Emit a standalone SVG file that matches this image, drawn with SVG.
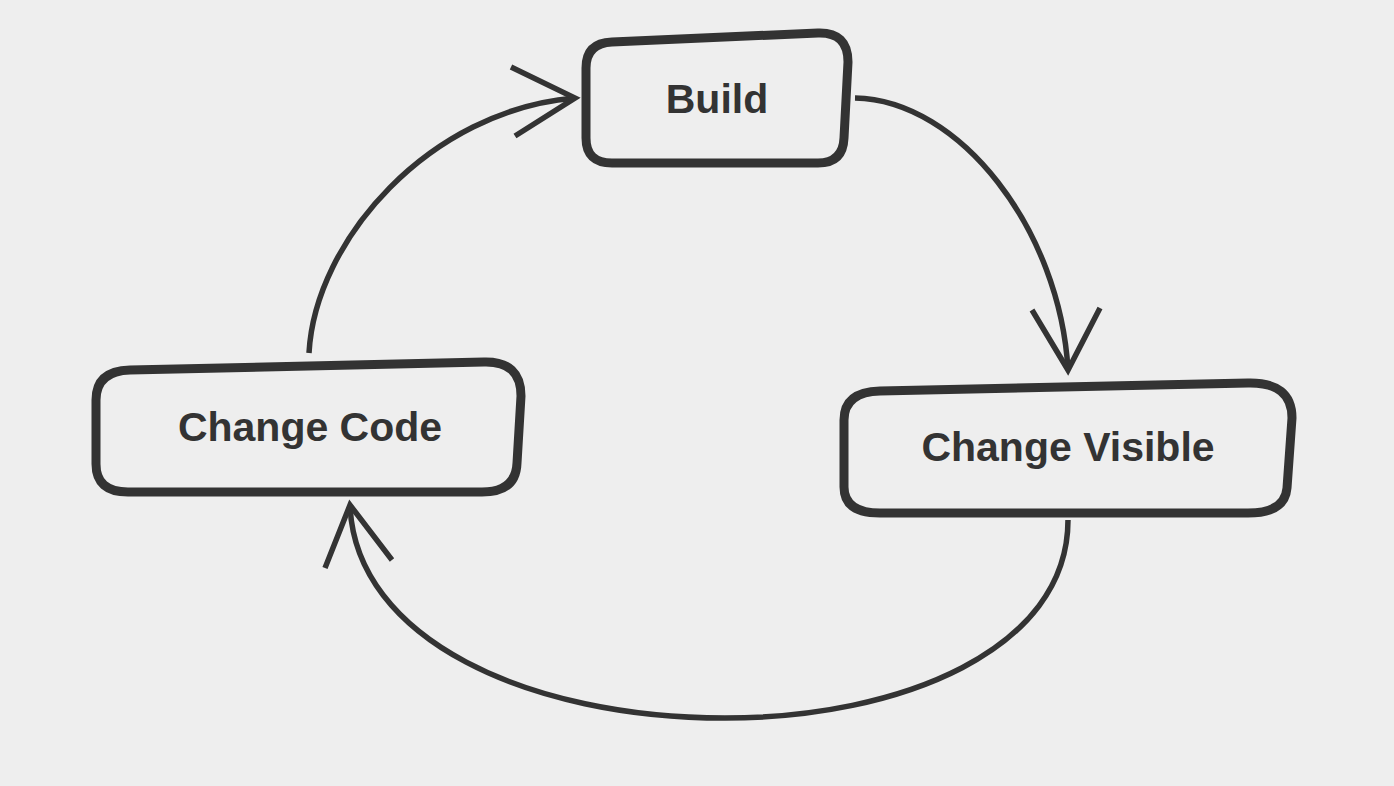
<svg xmlns="http://www.w3.org/2000/svg" width="1394" height="786" viewBox="0 0 1394 786">
<style>
.box{fill:none;stroke:#333333;stroke-width:9;stroke-linejoin:round}
.lbl{font-family:"Liberation Sans",Arial,sans-serif;font-weight:bold;font-size:41px;fill:#333333;text-anchor:middle}
.conn{fill:none;stroke:#333333;stroke-width:5.5;stroke-linecap:butt;stroke-linejoin:miter}
</style>
<rect width="1394" height="786" fill="#eeeeee"/>
<g id="connectors">
<path class="conn" d="M 309 353 C 315 240 430 110 575 98"/>
<path class="conn" d="M 511 67 L 575 98 L 515 136"/>
<path class="conn" d="M 855 98 C 960 100 1060 230 1068 370"/>
<path class="conn" d="M 1032 310 L 1068 370 L 1100 308"/>
<path class="conn" d="M 1068 520 C 1068 650 900 718 725 718 C 530 718 355 640 350 505"/>
<path class="conn" d="M 325 568 L 350 505 L 392 560"/>
</g>
<g id="node-build">
<path class="box" d="M 612 42 L 818 33 Q 848 32 848 62 L 844 138 Q 843 163 818 163 L 612 163 Q 586 163 586 138 L 586 68 Q 586 43 612 42 Z"/>
<text class="lbl" x="717" y="113">Build</text>
</g>
<g id="node-change-code">
<path class="box" d="M 130 370 L 484 362 Q 521 361 521 396 L 517 463 Q 516 492 482 492 L 128 492 Q 96 492 96 464 L 96 400 Q 96 371 130 370 Z"/>
<text class="lbl" x="310" y="441">Change Code</text>
</g>
<g id="node-change-visible">
<path class="box" d="M 880 391 L 1248 383 Q 1292 382 1292 418 L 1287 488 Q 1285 513 1248 513 L 880 513 Q 844 513 844 487 L 844 420 Q 844 392 880 391 Z"/>
<text class="lbl" x="1068" y="461">Change Visible</text>
</g>
</svg>
